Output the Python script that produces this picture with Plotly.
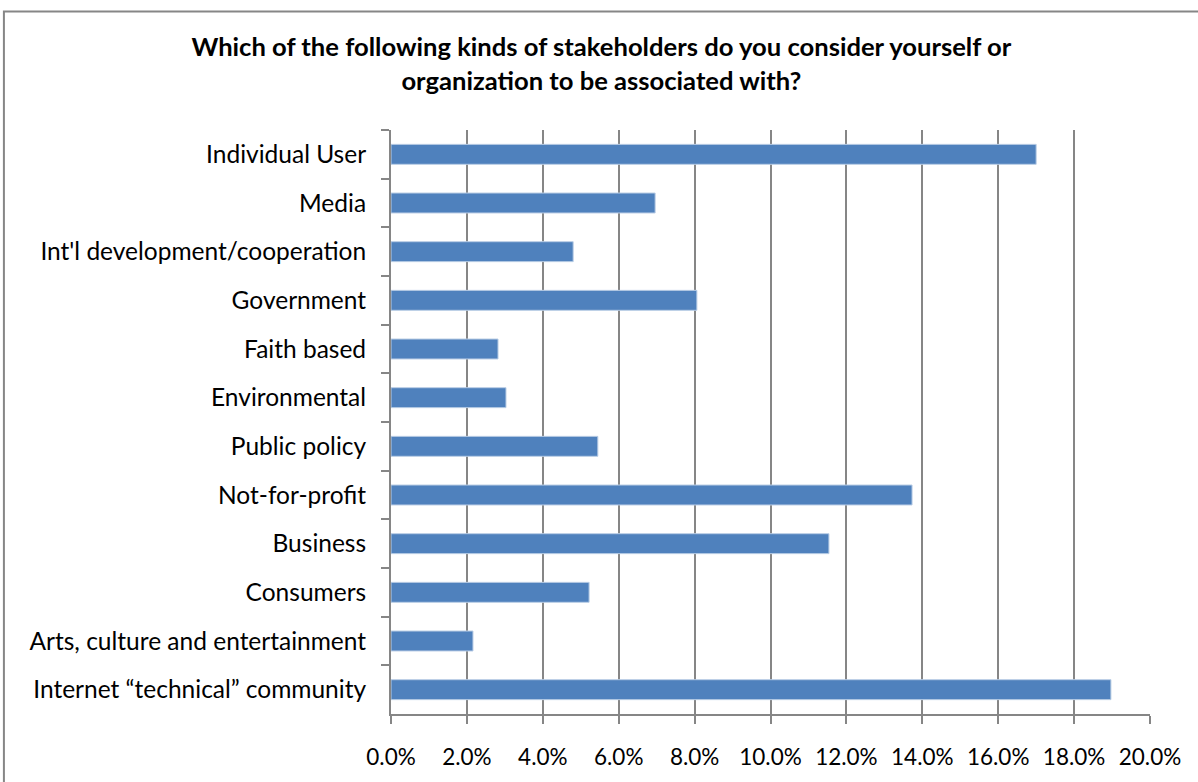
import plotly.graph_objects as go

# Survey responses, listed top to bottom as drawn
categories = [
    "Individual User",
    "Media",
    "Int'l development/cooperation",
    "Government",
    "Faith based",
    "Environmental",
    "Public policy",
    "Not-for-profit",
    "Business",
    "Consumers",
    "Arts, culture and entertainment",
    "Internet \u201ctechnical\u201d community",
]
shares = [0.170, 0.0696, 0.048, 0.0806, 0.0282, 0.0303, 0.0545, 0.1373, 0.1154, 0.0522, 0.0216, 0.1897]

tick_vals = [0, 0.02, 0.04, 0.06, 0.08, 0.10, 0.12, 0.14, 0.16, 0.18, 0.20]
tick_text = ["0.0%", "2.0%", "4.0%", "6.0%", "8.0%", "10.0%", "12.0%", "14.0%", "16.0%", "18.0%", "20.0%"]

grey = "#868686"
font_family = "Lato, 'Open Sans', sans-serif"

fig = go.Figure(
    go.Bar(
        x=shares,
        y=categories,
        orientation="h",
        marker=dict(color="#4F81BD", line=dict(color="#B9CDE5", width=1)),
        hoverinfo="x+y",
    )
)

fig.update_layout(
    width=1198,
    height=782,
    margin=dict(l=391, r=48, t=130, b=61),
    paper_bgcolor="white",
    plot_bgcolor="white",
    bargap=0.59,
    showlegend=False,
    font=dict(family=font_family, size=22, color="#000000"),
    title=dict(
        text="<b>Which of the following kinds of stakeholders do you consider yourself or<br>organization to be associated with?</b>",
        x=0.502,
        xanchor="center",
        xref="container",
        y=0.928,
        yref="container",
        yanchor="middle",
        font=dict(family=font_family, size=25.6, color="#000000"),
    ),
    shapes=[
        dict(
            type="rect",
            xref="paper",
            yref="paper",
            x0=-0.51,
            x1=1.2,
            y0=-0.3,
            y1=1.203,
            line=dict(color=grey, width=2),
            fillcolor="rgba(0,0,0,0)",
            layer="below",
        )
    ],
)

fig.update_xaxes(
    range=[0, 0.20],
    tickvals=tick_vals,
    ticktext=tick_text,
    showgrid=True,
    gridcolor=grey,
    gridwidth=2,
    showline=True,
    linecolor=grey,
    linewidth=2,
    ticks="outside",
    ticklen=8,
    tickwidth=2,
    tickcolor=grey,
    ticklabelstandoff=14,
    zeroline=False,
    tickfont=dict(size=22.5),
)

fig.update_yaxes(
    autorange="reversed",
    showgrid=False,
    showline=True,
    linecolor=grey,
    linewidth=2,
    ticks="outside",
    tickson="boundaries",
    ticklen=8,
    tickwidth=2,
    tickcolor=grey,
    ticklabelstandoff=18,
    tickfont=dict(size=24.5),
)

fig.write_html("out.html")
